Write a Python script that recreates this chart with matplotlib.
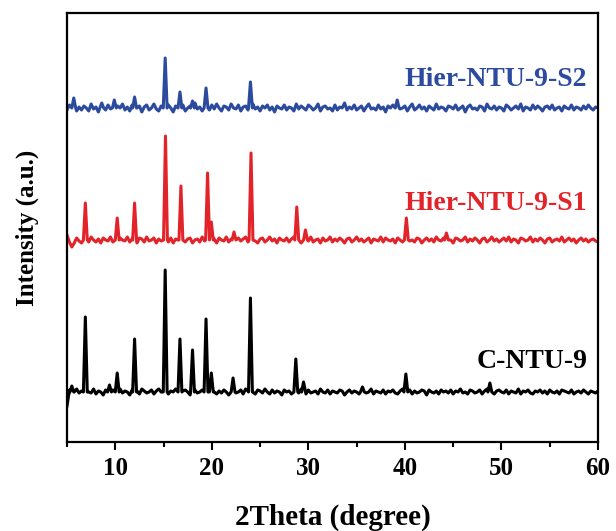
import numpy as np
import matplotlib
matplotlib.use("Agg")
import matplotlib.pyplot as plt

plt.rcParams['font.family'] = ['Liberation Serif', 'DejaVu Serif']
plt.rcParams['font.weight'] = 'bold'

# 2Theta sampling of the background (degrees)
grid = np.arange(5.0, 60.001, 0.25)

# ---- C-NTU-9 (black) ----
black_offset = 50
black_base = [-14, 2, 4, 0, 3, -1, 1, -2, 2, 0, -1, 3, -2, 1, 0, -3, 2, 1, -1, 2,
              0, -2, 3, -1, 1, 0, -3, 2, 0, 1, -2, 3, 1, -1, 0, 2, -2, 1, 3, 0,
              -1, 2, -2, 1, 0, 3, -1, -2, 1, 2, 0, -3, 1, 2, -1, 0, 2, -2, 1, -1,
              3, 0, -2, 1, -1, 2, 0, -3, 2, 1, -1, 0, 2, -2, 3, 1, -1, 0, -2, 2,
              1, -1, 3, 0, -2, 2, -1, 1, 0, -3, 2, 0, 1, -2, 2, 1, -1, 3, 0, -2,
              2, -1, 0, 1, -2, 3, 0, -1, 2, -2, 1, 0, -1, 2, 1, -3, 0, 2, -1, 1,
              0, -2, 2, 1, -1, 0, 3, -2, 1, 0, -1, 2, -2, 1, 0, 2, -1, -2, 1, 3,
              -1, 0, 2, -2, 1, -1, 0, 2, 1, -3, 2, 0, -1, 1, -2, 2, 0, 1, -1, 2,
              -2, 1, 0, 3, -1, 0, -2, 2, 1, -1, 0, 2, -2, 1, 3, -1, 0, -2, 1, 2,
              0, -1, 2, -2, 1, 0, -1, 3, -2, 1, 0, 2, -1, -2, 1, 0, 2, -1, 1, -2,
              2, 0, -1, 1, -2, 2, 1, 0, -1, 2, -2, 0, 1, -1, 2, 0, -2, 1, 0, -1,
              1]
black_peak_pos = [5.5, 6.9, 9.4, 10.2, 12.0, 15.17, 16.7, 18.0, 19.4, 19.95, 22.2, 24.0, 28.7, 29.5, 35.6, 40.1, 48.8]
black_peak_h = [6, 75, 7, 19, 53, 122, 53, 42, 73, 19, 14, 94, 33, 10, 5, 18, 9]

# ---- Hier-NTU-9-S1 (red) ----
red_offset = 202
red_base = [5, -2, -7, -3, 2, -1, -3, 2, 1, -2, 3, 0, -2, 1, -3, 2, 0, -1, 3, -2,
            1, -3, 2, 0, -1, 3, -2, 1, 0, -3, 2, 1, -2, 3, -1, 0, 2, -3, 1, -1,
            3, 0, -2, 2, -3, 1, 0, -1, 3, -2, 1, 2, -3, 0, 1, -2, 3, -1, 0, 2,
            -2, 1, -3, 2, 0, -1, 3, -2, 1, 0, -3, 2, -1, 1, 3, -2, 0, 2, -1, -3,
            1, 2, -2, 0, 3, -1, 1, -3, 2, 0, -1, 2, -2, 1, 3, -1, 0, -3, 2, 1,
            -1, 3, -2, 0, 1, -3, 2, -1, 0, 3, -2, 1, -1, 2, 0, -3, 1, 2, -2, 0,
            3, -1, 1, -2, 0, 2, -3, 1, 0, -1, 3, -2, 2, 0, -1, 1, -3, 2, 0, -2,
            1, 3, -1, 0, -2, 2, 1, -3, 0, 2, -1, 1, -2, 3, 0, -1, 2, -2, 1, 0,
            -3, 2, 1, -1, 0, 3, -2, 1, -1, 2, 0, -3, 1, 2, -2, 0, 3, -1, 1, -2,
            0, 2, -1, 3, -2, 1, 0, -3, 2, 1, -1, 0, 3, -2, 1, -1, 2, 0, -3, 1,
            2, -2, 0, 1, -1, 3, -2, 0, 2, -1, 1, -3, 0, 2, -1, 1, -2, 0, 1, -1,
            -2]
red_peak_pos = [6.9, 10.2, 12.0, 15.2, 16.8, 19.56, 19.95, 22.3, 24.06, 28.8, 29.7, 40.15, 44.3]
red_peak_h = [37, 22, 37, 104, 54, 67, 18, 8, 87, 33, 10, 22, 7]

# ---- Hier-NTU-9-S2 (blue) ----
blue_offset = 334
blue_base = [-2, 3, -1, 4, -3, 1, -2, 2, 0, -3, 4, -1, 1, -4, 2, 0, -2, 3, -1, 1,
             -3, 2, 0, 4, -2, 1, -3, 3, -1, 0, 2, -4, 1, 3, -2, 0, 4, -1, -3, 2,
             1, -2, 3, 0, -4, 2, 1, -1, 3, -3, 0, 2, -2, 5, -1, 1, -3, 2, 0, -2,
             3, -1, 4, 0, -3, 2, 1, -2, 4, 0, -1, 3, -3, 1, 2, -2, 0, 4, -1, 1,
             -3, 2, 0, 3, -2, 1, -4, 2, 0, -1, 3, -2, 1, 0, -3, 4, -1, 2, 0, -2,
             3, 1, -2, 0, 4, -3, 1, 2, -1, 0, -3, 3, -2, 1, 0, 5, -2, 1, -1, 3,
             -2, 0, 2, -3, 1, 4, -1, 0, -2, 3, -1, 1, -4, 2, 0, 3, -2, 1, -1, 0,
             2, -3, 1, 4, -2, 0, 3, -1, 1, -3, 2, 0, -2, 4, -1, 1, 0, -3, 2, 1,
             -1, 3, -2, 0, 2, -4, 1, 3, -1, 0, -2, 2, 1, -3, 4, 0, -1, 2, -2, 1,
             0, -3, 3, 1, -2, 0, 2, -1, 4, -3, 1, 0, -2, 3, -1, 2, 0, -3, 1, 2,
             -1, 3, -2, 0, 1, -3, 2, 0, -1, 3, -2, 1, 0, -2, 2, -1, 3, 0, -2, 1,
             0]
blue_peak_pos = [5.7, 8.6, 9.9, 12.0, 15.17, 16.7, 18.0, 19.4, 24.0, 39.2]
blue_peak_h = [10, 5, 8, 11, 50, 16, 7, 20, 26, 8]

labels = ['C-NTU-9', 'Hier-NTU-9-S1', 'Hier-NTU-9-S2']
colors = ['#000000', '#E2242A', '#2C4A9E']
label_y = [80, 239, 363]


def build(base, pos, h, offset, hw=0.2):
    base = np.asarray(base, float)
    pos = np.asarray(pos, float)
    keep = np.array([np.all(np.abs(g - pos) > hw + 0.03) for g in grid])
    xs = list(grid[keep])
    ys = list(base[keep] + offset)
    for p, hh in zip(pos, h):
        xs += [p - hw, p, p + hw]
        ys += [offset, offset + hh, offset]
    order = np.argsort(xs)
    return np.asarray(xs)[order], np.asarray(ys)[order]


fig = plt.figure(figsize=(6.16, 5.31), dpi=100)
ax = fig.add_axes([67 / 616, 1 - 442 / 531, (598 - 67) / 616, (442 - 13) / 531])

series = [(black_base, black_peak_pos, black_peak_h, black_offset),
          (red_base, red_peak_pos, red_peak_h, red_offset),
          (blue_base, blue_peak_pos, blue_peak_h, blue_offset)]
for (b, p, h, o), c, lab, ly in zip(series, colors, labels, label_y):
    x, y = build(b, p, h, o)
    ax.plot(x, y, color=c, lw=2.2, solid_joinstyle='round')
    ax.text(58.9, ly, lab, color=c, fontsize=20, fontweight='bold',
            ha='right', va='center')

ax.set_xlim(5, 60)
ax.set_ylim(0, 429)
ax.set_xticks([10, 20, 30, 40, 50, 60])
ax.set_xticks([5, 15, 25, 35, 45, 55], minor=True)
ax.set_yticks([])
ax.tick_params(axis='x', which='major', direction='out', length=5.5, width=1.5,
               labelsize=18, pad=5)
ax.tick_params(axis='x', which='minor', direction='out', length=3.5, width=1.5)
for s in ax.spines.values():
    s.set_linewidth(1.6)
for t in ax.get_xticklabels():
    t.set_fontweight('bold')
ax.set_xlabel('2Theta (degree)', fontsize=21, fontweight='bold', labelpad=17)
ax.set_ylabel('Intensity (a.u.)', fontsize=18, fontweight='bold', labelpad=20)

fig.savefig('out.png', dpi=100)
